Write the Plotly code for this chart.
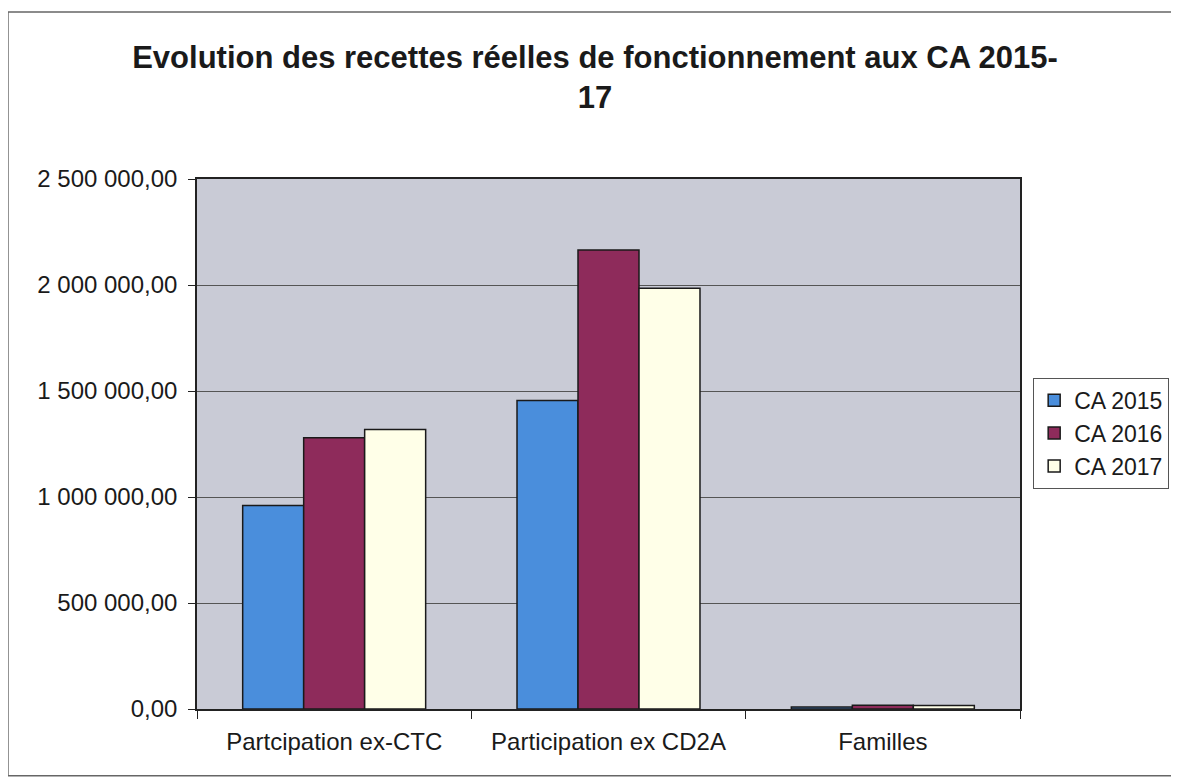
import plotly.graph_objects as go

# catégories et valeurs
categories = ["Partcipation ex-CTC", "Participation ex CD2A", "Familles"]
series_names = ["CA 2015", "CA 2016", "CA 2017"]
ca_2015 = [960000, 1455000, 10000]
ca_2016 = [1280000, 2165000, 18000]
ca_2017 = [1318000, 1985000, 16000]
y_ticks = [0, 500000, 1000000, 1500000, 2000000, 2500000]

colors = ["#4a8edc", "#8e2b5b", "#ffffe8"]

fig = go.Figure()
for name, vals, col in zip(series_names, [ca_2015, ca_2016, ca_2017], colors):
    fig.add_trace(go.Bar(
        x=categories, y=vals, name=name,
        marker=dict(color=col, line=dict(color="#1a1a1a", width=1.5)),
    ))

# la page ajoute une marge de 8 px à gauche / en haut
fig.update_layout(
    width=1171, height=772,
    paper_bgcolor="white",
    plot_bgcolor="#c9cbd6",
    font=dict(family="Liberation Sans, Arial", size=24, color="#1a1a1a"),
    separators=", ",
    title=dict(
        text="<b>Evolution des recettes réelles de fonctionnement aux CA 2015-<br>17</b>",
        x=0.5013, xanchor="center", y=0.9228, yanchor="top",
        font=dict(size=31, color="#1a1a1a"),
    ),
    margin=dict(l=189, r=159, t=171, b=71, autoexpand=False),
    barmode="group", bargap=0.333, bargroupgap=0,
    legend=dict(
        x=1.016, y=0.625, xanchor="left", yanchor="top",
        bgcolor="white", bordercolor="#555", borderwidth=1,
        font=dict(size=23), itemwidth=30, tracegroupgap=0,
    ),
    showlegend=True,
)

fig.update_yaxes(
    range=[0, 2500000], tickvals=y_ticks, tickformat=",.2f",
    showgrid=True, gridcolor="#555555", gridwidth=1,
    showline=True, linecolor="#222", linewidth=1.5, mirror=True,
    ticks="outside", ticklen=7, tickcolor="#222", ticklabelstandoff=6,
    zeroline=False,
)
fig.update_xaxes(
    showline=True, linecolor="#222", linewidth=1.5, mirror=True,
    ticks="outside", tickson="boundaries", ticklen=8, tickcolor="#222",
    ticklabelstandoff=10,
)

# cadre extérieur du graphique
fig.add_shape(type="rect", xref="paper", yref="paper",
              x0=-0.2297, x1=1.1865, y0=-0.126, y1=1.315,
              line=dict(color="#666", width=1.5))

fig.write_html("out.html")
